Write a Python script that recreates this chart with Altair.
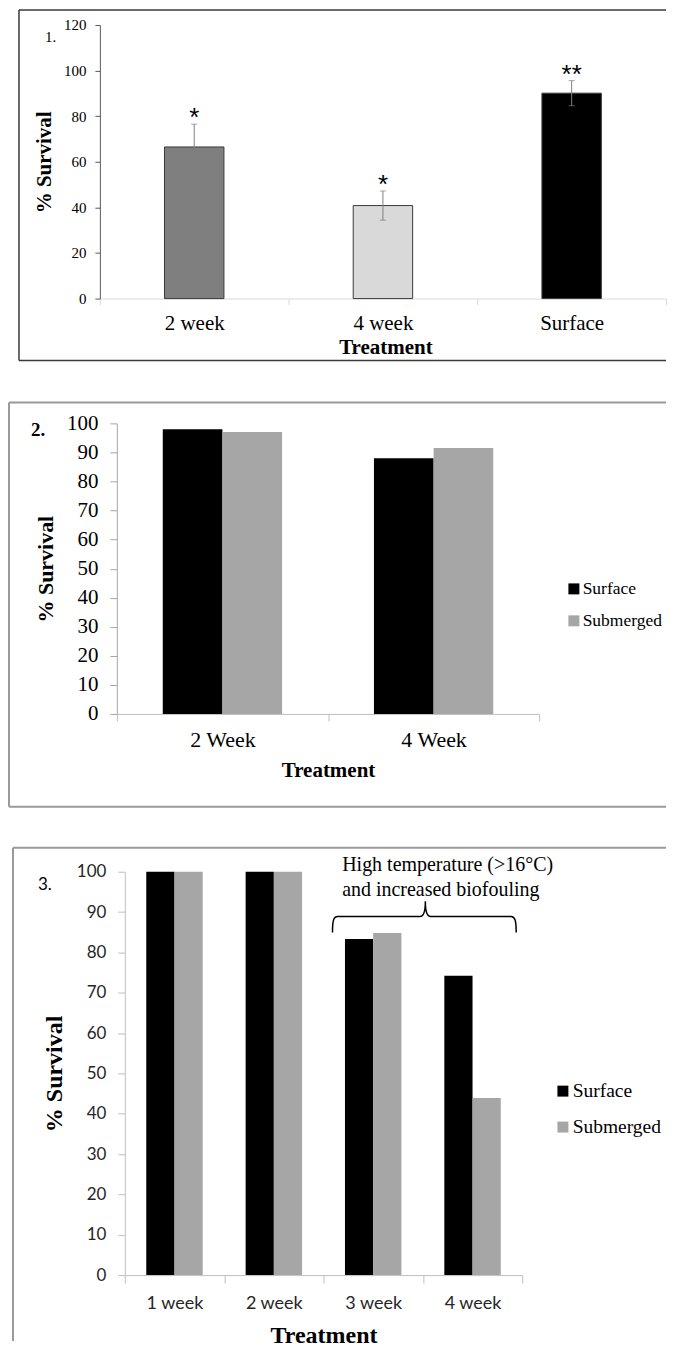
import altair as alt
import pandas as pd

SERIF = "Liberation Serif"
SANS = "Lato"

# ---------------- Panel 1 data ----------------
p1_treatments = ["2 week", "4 week", "Surface"]
p1_survival = [66.5, 40.8, 90.1]
p1_error = [10.0, 6.4, 5.5]
p1_signif = ["*", "*", "**"]
p1_colors = ["#7f7f7f", "#d9d9d9", "#000000"]
p1_yticks = [0, 20, 40, 60, 80, 100, 120]

# ---------------- Panel 2 data ----------------
p2_treatments = ["2 Week", "4 Week"]
p2_groups = ["Surface", "Submerged"]
p2_surface = [98, 88]
p2_submerged = [97, 91.5]
p2_yticks = [0, 10, 20, 30, 40, 50, 60, 70, 80, 90, 100]

# ---------------- Panel 3 data ----------------
p3_treatments = ["1 week", "2 week", "3 week", "4 week"]
p3_groups = ["Surface", "Submerged"]
p3_surface = [100, 100, 83.3, 74.2]
p3_submerged = [100, 100, 84.8, 43.9]
p3_yticks = [0, 10, 20, 30, 40, 50, 60, 70, 80, 90, 100]
p3_note = ["High temperature (>16°C)", "and increased biofouling"]
p3_note_at = ["3 week", "3 week"]
p3_note_y = [101.7, 95.5]
p3_brace_at = ["3 week"]
p3_brace_y = [88.9]

group_colors = ["#000000", "#a6a6a6"]

BRACE_PATH = ("M -0.984 0.174 C -0.984 0.04 -0.97 0 -0.93 0 L -0.03 0 "
              "C 0.01 0 0.027 -0.05 0.027 -0.166 C 0.027 -0.05 0.044 0 0.084 0 "
              "L 0.96 0 C 1.0 0 1.016 0.04 1.016 0.174")

RIGHT = 567  # right edge of every panel, relative to group origin (page x 100)

one = pd.DataFrame({"k": [0]})


def rule(x, x2, y, y2, color, width):
    return alt.Chart(one).mark_rule(color=color, strokeWidth=width).encode(
        x=alt.value(x), x2=alt.value(x2), y=alt.value(y), y2=alt.value(y2))


def region(x, x2, y, y2):
    return alt.Chart(one).mark_rect(opacity=0).encode(
        x=alt.value(x), x2=alt.value(x2), y=alt.value(y), y2=alt.value(y2))


def label(text, x, y, font, size, weight="normal"):
    return alt.Chart(pd.DataFrame({"t": [text]})).mark_text(
        align="left", baseline="middle", font=font, fontSize=size,
        fontWeight=weight, color="black").encode(
        x=alt.value(x), y=alt.value(y), text="t:N")


# ================= Panel 1 =================  (plot origin at page x=100)
W1, H1 = 567, 274
df1 = pd.DataFrame({
    "Treatment": p1_treatments,
    "Survival": p1_survival,
    "Lo": [v - e for v, e in zip(p1_survival, p1_error)],
    "Hi": [v + e for v, e in zip(p1_survival, p1_error)],
    "Sig": p1_signif,
})
x1_scale = alt.Scale(paddingInner=0, paddingOuter=0)
y1_scale = alt.Scale(domain=[0, 120], nice=False)
x1_axis = alt.Axis(
    labelAngle=0, domainColor="#d9d9d9", tickColor="#d9d9d9", tickBand="extent",
    tickSize=6, labelPadding=19, labelBaseline="middle", labelFont=SERIF,
    labelFontSize=21, labelColor="black", titleFont=SERIF, titleFontSize=21,
    titleFontWeight="bold", titleColor="black", titleX=286, titleY=49,
    titleAlign="center", titleBaseline="middle")
y1_axis = alt.Axis(
    values=p1_yticks, domainColor="#595959", tickColor="#595959", tickSize=5,
    labelPadding=9, labelFont=SERIF, labelFontSize=15, labelColor="black",
    titleFont=SERIF, titleFontSize=21, titleFontWeight="bold", titleColor="black",
    titleAngle=270, titleX=-55.5, titleY=H1 / 2, titleAlign="center",
    titleBaseline="middle")

base1 = alt.Chart(df1)
bars1 = base1.mark_bar(stroke="#3a3a3a", strokeWidth=1,
                       width=alt.RelativeBandSize(0.315)).encode(
    x=alt.X("Treatment:N", sort=p1_treatments, scale=x1_scale, axis=x1_axis,
            title="Treatment"),
    y=alt.Y("Survival:Q", scale=y1_scale, axis=y1_axis, title="% Survival"),
    color=alt.Color("Treatment:N", sort=p1_treatments,
                    scale=alt.Scale(domain=p1_treatments, range=p1_colors),
                    legend=None),
)
xe = alt.X("Treatment:N", sort=p1_treatments, title="Treatment")
err1 = base1.mark_rule(color="#7f7f7f", strokeWidth=1).encode(
    x=xe, y=alt.Y("Lo:Q", scale=y1_scale, title="% Survival"), y2="Hi:Q")
caplo = base1.mark_tick(color="#7f7f7f", size=6, thickness=1).encode(
    x=xe, y=alt.Y("Lo:Q", scale=y1_scale, title="% Survival"))
caphi = base1.mark_tick(color="#7f7f7f", size=6, thickness=1).encode(
    x=xe, y=alt.Y("Hi:Q", scale=y1_scale, title="% Survival"))
stars1 = base1.mark_text(font="Liberation Sans", fontSize=26, baseline="alphabetic",
                         align="center", dy=2, color="black").encode(
    x=xe, y=alt.Y("Hi:Q", scale=y1_scale, title="% Survival"), text="Sig:N")

panel1 = alt.layer(
    region(-92, RIGHT, -16, 357),
    rule(-81, RIGHT, -15, -15, "#3a3a3a", 1.5),
    rule(-81, RIGHT, 336, 336, "#3a3a3a", 1.5),
    rule(-81, -81, -15, 336, "#3a3a3a", 1.5),
    bars1, err1, caplo, caphi, stars1,
    label("1.", -55, 12, SERIF, 15),
).properties(width=W1, height=H1)

# ================= Panel 2 =================  (group origin page x=100, plot from 117)
S2 = 17
W2, H2 = S2 + 423, 291
df2 = pd.DataFrame({
    "Treatment": p2_treatments * 2,
    "Group": [p2_groups[0]] * len(p2_treatments) + [p2_groups[1]] * len(p2_treatments),
    "Survival": p2_surface + p2_submerged,
})
bars2 = alt.Chart(df2).mark_bar().encode(
    x=alt.X("Treatment:N", sort=p2_treatments,
            scale=alt.Scale(paddingInner=0, paddingOuter=0, rangeMin=S2),
            title="Treatment",
            axis=alt.Axis(
                labelAngle=0, domainColor="#bfbfbf", tickColor="#bfbfbf",
                tickBand="extent", tickSize=7, labelPadding=19,
                labelBaseline="middle", labelFont=SERIF, labelFontSize=22,
                labelColor="black", titleFont=SERIF, titleFontSize=21,
                titleFontWeight="bold", titleColor="black", titleX=S2 + 211.5,
                titleY=57, titleAlign="center", titleBaseline="middle")),
    xOffset=alt.XOffset("Group:N", sort=p2_groups,
                        scale=alt.Scale(paddingInner=0, paddingOuter=0.77)),
    y=alt.Y("Survival:Q", scale=alt.Scale(domain=[0, 100], nice=False),
            title="% Survival",
            axis=alt.Axis(
                values=p2_yticks, offset=-S2, domainColor="#a6a6a6",
                tickColor="#a6a6a6", tickSize=7, labelPadding=12,
                labelFont=SERIF, labelFontSize=21, labelColor="black",
                titleFont=SERIF, titleFontSize=22, titleFontWeight="bold",
                titleColor="black", titleAngle=270, titleX=-71, titleY=H2 / 2,
                titleAlign="center", titleBaseline="middle")),
    color=alt.Color("Group:N", sort=p2_groups,
                    scale=alt.Scale(domain=p2_groups, range=group_colors),
                    legend=alt.Legend(
                        title=None, orient="none", legendX=463, legendY=157,
                        symbolType="square", symbolSize=121, symbolStrokeWidth=0,
                        symbolOffset=3, labelFont=SERIF, labelFontSize=17.5,
                        labelColor="black", rowPadding=13, labelOffset=0,
                        padding=0)),
)

panel2 = alt.layer(
    region(-92, RIGHT, -42, 405),
    rule(-91, RIGHT, -21, -21, "#9a9a9a", 2),
    rule(-91, RIGHT, 384, 384, "#9a9a9a", 2),
    rule(-91, -91, -21, 384, "#9a9a9a", 2),
    bars2,
    label("2.", -69, 7, SERIF, 19, "bold"),
).properties(width=W2, height=H2)

# ================= Panel 3 =================  (group origin page x=100, plot from 125)
S3 = 25
W3, H3 = S3 + 398, 404
df3 = pd.DataFrame({
    "Treatment": p3_treatments * 2,
    "Group": [p3_groups[0]] * len(p3_treatments) + [p3_groups[1]] * len(p3_treatments),
    "Survival": p3_surface + p3_submerged,
})
x3_scale = alt.Scale(paddingInner=0, paddingOuter=0, rangeMin=S3)
y3_scale = alt.Scale(domain=[0, 100], nice=False)
bars3 = alt.Chart(df3).mark_bar().encode(
    x=alt.X("Treatment:N", sort=p3_treatments, scale=x3_scale,
            title="Treatment",
            axis=alt.Axis(
                labelAngle=0, domainColor="#bfbfbf", tickColor="#bfbfbf",
                tickBand="extent", tickSize=8, labelPadding=20,
                labelBaseline="middle", labelFont=SANS, labelFontSize=18,
                labelColor="#262626", titleFont=SERIF, titleFontSize=24,
                titleFontWeight="bold", titleColor="black", titleX=S3 + 199,
                titleY=61, titleAlign="center", titleBaseline="middle")),
    xOffset=alt.XOffset("Group:N", sort=p3_groups,
                        scale=alt.Scale(paddingInner=0, paddingOuter=0.76)),
    y=alt.Y("Survival:Q", scale=y3_scale, title="% Survival",
            axis=alt.Axis(
                values=p3_yticks, offset=-S3, domainColor="#bfbfbf",
                tickColor="#bfbfbf", tickSize=7, labelPadding=12,
                labelFont=SANS, labelFontSize=17, labelColor="#262626",
                titleFont=SERIF, titleFontSize=24, titleFontWeight="bold",
                titleColor="black", titleAngle=270, titleX=-70, titleY=H3 / 2,
                titleAlign="center", titleBaseline="middle")),
    color=alt.Color("Group:N", sort=p3_groups,
                    scale=alt.Scale(domain=p3_groups, range=group_colors),
                    legend=alt.Legend(
                        title=None, orient="none", legendX=451, legendY=210,
                        symbolType="square", symbolSize=121, symbolStrokeWidth=0,
                        symbolOffset=3, labelFont=SERIF, labelFontSize=19.5,
                        labelColor="black", rowPadding=15, labelOffset=0,
                        padding=0)),
)

brace_df = pd.DataFrame({"Treatment": p3_brace_at, "by": p3_brace_y})
brace = alt.Chart(brace_df).mark_point(
    shape=BRACE_PATH, size=33856, filled=False, stroke="black",
    strokeWidth=1.5, opacity=1).encode(
    x=alt.X("Treatment:N", sort=p3_treatments, scale=x3_scale,
            title="Treatment", bandPosition=1),
    y=alt.Y("by:Q", scale=y3_scale, title="% Survival"),
)
note_df = pd.DataFrame({"Treatment": p3_note_at, "ny": p3_note_y, "txt": p3_note})
note = alt.Chart(note_df).mark_text(align="left", baseline="middle", font=SERIF,
                                     fontSize=20, color="black", dx=18.7).encode(
    x=alt.X("Treatment:N", sort=p3_treatments, scale=x3_scale,
            title="Treatment", bandPosition=0),
    y=alt.Y("ny:Q", scale=y3_scale, title="% Survival"),
    text="txt:N",
)

panel3 = alt.layer(
    region(-92, RIGHT, -44, 470),
    rule(-87, RIGHT, -24, -24, "#9a9a9a", 2),
    rule(-87, -87, -24, 470, "#9a9a9a", 2),
    bars3, brace, note,
    label("3.", -62, 13, SANS, 17),
).properties(width=W3, height=H3)

chart = alt.concat(panel1, panel2, panel3, columns=1, spacing=0).resolve_scale(
    color="independent", xOffset="independent"
).resolve_legend(color="independent").properties(
    padding=0
).configure_view(strokeWidth=0).configure_axis(grid=False)

chart.save("out.html", embed_options={"renderer": "svg", "actions": False})
